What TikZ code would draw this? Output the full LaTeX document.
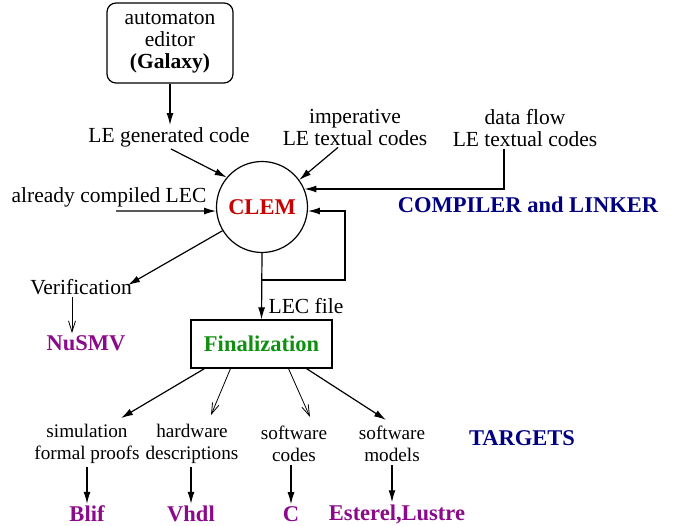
\documentclass[tikz,border=0pt]{standalone}
\usepackage{fontspec}
\setmainfont{Liberation Serif}[BoldFont={Liberation Serif Bold}]
\usetikzlibrary{arrows.meta}
\definecolor{clemred}{HTML}{C80000}
\definecolor{navyc}{HTML}{000080}
\definecolor{fingreen}{HTML}{109010}
\definecolor{purp}{HTML}{8B0A8B}
\tikzset{
  txt/.style={font=\fontsize{21.5}{22}\selectfont, align=center, inner sep=2pt},
  small/.style={font=\fontsize{19.2}{22}\selectfont, align=center, inner sep=3pt},
  boldtxt/.style={font=\fontsize{22.5}{24}\selectfont\bfseries, inner sep=2pt},
  arr/.style={line width=1.2pt, -{Latex[length=12pt,width=7pt]}},
  openarr/.style={line width=0.8pt, -{Straight Barb[length=11pt,width=7pt]}},
}
\begin{document}
\begin{tikzpicture}[x=1pt,y=-1pt]
\useasboundingbox (0,0) rectangle (686,526);
% top
\node[draw, line width=1.2pt, rounded corners=9pt, minimum width=126pt, minimum height=80pt, txt] (gal) at (170,43) {automaton\\editor\\\textbf{(Galaxy)}};
\node[txt] (legen) at (169,137) {LE generated code};
\node[txt] (imp) at (355,127) {imperative\\LE textual codes};
\node[txt] (df) at (525,128) {data flow\\LE textual codes};
\node[txt] (acl) at (109,197) {already compiled LEC};
\coordinate (aclin) at (116,211);
% CLEM
\node[draw, circle, line width=1.2pt, minimum size=91pt, inner sep=0pt, boldtxt, text=clemred] (clem) at (262,207) {CLEM};
\node[boldtxt, text=navyc] (comp) at (528,205) {COMPILER and LINKER};
% Finalization
\node[draw, line width=1.2pt, minimum width=141pt, minimum height=48pt, boldtxt, text=fingreen] (fin) at (261.5,344) {Finalization};
\node[txt] (lecf) at (306,306) {LEC file};
% verification
\node[txt] (ver) at (81,287) {Verification};
\coordinate (vtip) at (128,285);
\node[boldtxt, text=purp] (nus) at (86,343) {NuSMV};
% targets
\node[small] (sim) at (87,444) {simulation\\formal proofs};
\node[small] (hw) at (192,444) {hardware\\descriptions};
\node[small] (sc) at (294,444) {software\\codes};
\node[small] (sm) at (392,444) {software\\models};
\node[boldtxt, text=navyc] (tg) at (522,438) {TARGETS};
\node[boldtxt, text=purp] (blif) at (87,514) {Blif};
\node[boldtxt, text=purp] (vhdl) at (191,514) {Vhdl};
\node[boldtxt, text=purp] (cc) at (291,514) {C};
\node[boldtxt, text=purp] (est) at (397,514) {Esterel,Lustre};
% connectors
\draw[arr] (gal.south) -- (gal.south |- legen.north);
\draw[arr] ([xshift=2pt]legen.south) -- (clem.140);
\draw[arr] ([xshift=-17pt]imp.south) -- (clem.36);
\draw[arr] ([xshift=-21pt]df.south) |- (clem.23);
\draw[arr] (aclin) -- (clem.185);
\draw[arr] (clem.south) -- (fin.north);
\coordinate (lp) at (262,280);
\coordinate (lpr) at (345,280);
\draw[arr] (lp) -- (lpr) |- (clem.-5);
\draw[arr] (clem.211) -- (vtip);
\draw[openarr] ([xshift=-9pt]ver.south) -- ([xshift=-9pt]ver.south |- nus.north);
\draw[arr] ([xshift=-57pt]fin.south) -- ([xshift=34pt,yshift=3pt]sim.north);
\draw[openarr] ([xshift=-31pt]fin.south) -- ([xshift=19pt,yshift=6pt]hw.north);
\draw[openarr] ([xshift=27pt]fin.south) -- ([xshift=16pt,yshift=6pt]sc.north);
\draw[arr] ([xshift=45pt]fin.south) -- ([xshift=-6pt,yshift=3pt]sm.north);
\draw[arr] (sim.south -| blif.north) -- (blif.north);
\draw[arr] (hw.south -| vhdl.north) -- (vhdl.north);
\draw[arr] (sc.south -| cc.north) -- (cc.north);
\draw[arr] ([xshift=-5pt]est.north |- sm.south) -- ([xshift=-5pt]est.north);
\end{tikzpicture}
\end{document}
